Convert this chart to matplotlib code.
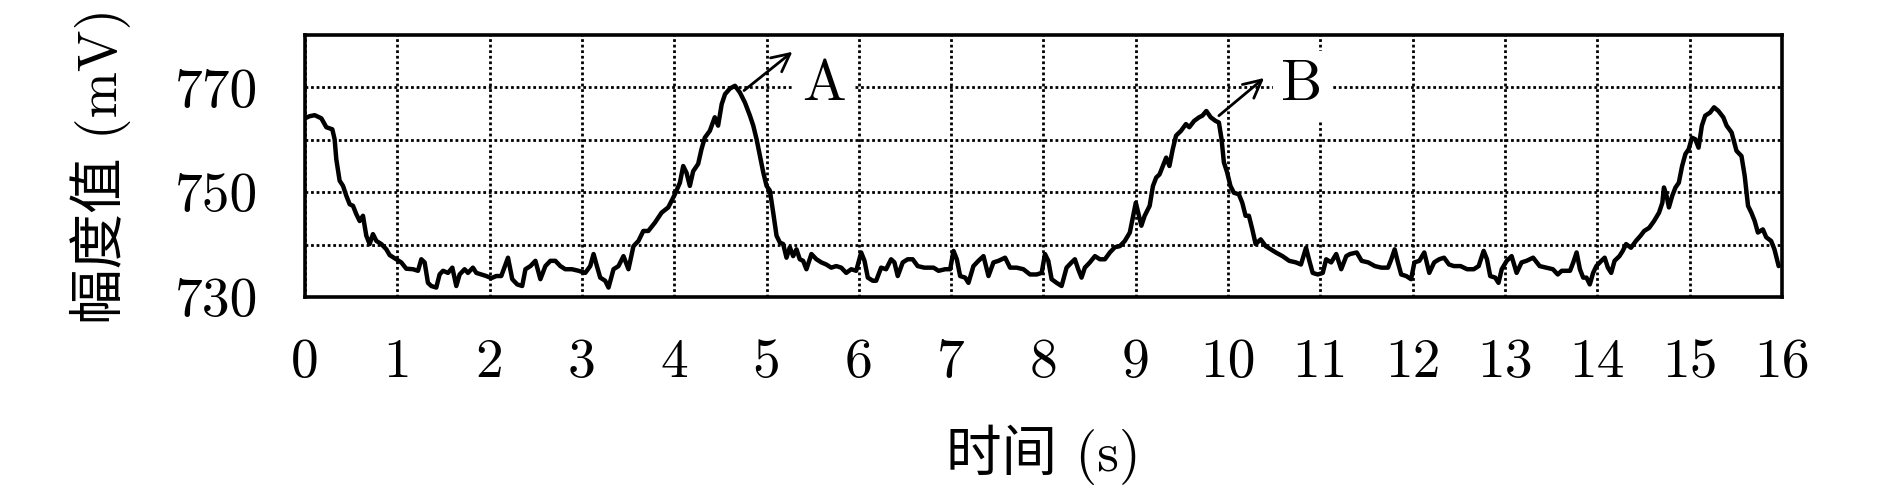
import matplotlib
matplotlib.use("Agg")
import matplotlib.pyplot as plt

# ---- data ----
time_s = [
    0.00, 0.05, 0.105, 0.177, 0.231, 0.296, 0.321, 0.339, 0.375, 0.412, 0.448, 0.484, 0.52, 0.556, 0.592,
    0.628, 0.664, 0.70, 0.736, 0.773, 0.827, 0.881, 0.917, 0.989, 1.043, 1.097, 1.17, 1.224, 1.26, 1.296,
    1.332, 1.368, 1.422, 1.458, 1.495, 1.549, 1.596, 1.639, 1.675, 1.729, 1.765, 1.819, 1.856, 1.91, 1.964,
    2.018, 2.072, 2.126, 2.199,
    2.245, 2.299, 2.353, 2.388, 2.442, 2.496, 2.55, 2.604, 2.658, 2.712, 2.766, 2.82, 2.892, 2.964, 3.036,
    3.09, 3.126, 3.162, 3.198, 3.252, 3.288, 3.342, 3.396, 3.45, 3.504, 3.558, 3.612, 3.665, 3.719, 3.791,
    3.863, 3.935, 4.007, 4.061, 4.097, 4.133, 4.169, 4.205, 4.259, 4.295, 4.331, 4.385, 4.439, 4.475,
    4.514, 4.55, 4.604, 4.658, 4.712, 4.766, 4.82, 4.856, 4.892, 4.928, 4.964, 5.0, 5.036, 5.072, 5.108,
    5.144, 5.18, 5.216, 5.252, 5.288, 5.324, 5.36, 5.396, 5.432, 5.486, 5.54, 5.594, 5.647, 5.701, 5.755,
    5.809, 5.863, 5.917, 5.971, 6.025, 6.061, 6.097, 6.151, 6.187, 6.241, 6.295, 6.349, 6.385, 6.421, 6.475,
    6.529, 6.583, 6.637, 6.709,
    6.809, 6.863, 6.935, 6.989, 7.025, 7.061, 7.097, 7.151, 7.187, 7.241, 7.295, 7.35, 7.404, 7.458, 7.512,
    7.584, 7.638, 7.71, 7.782, 7.854, 7.926, 7.98, 8.016, 8.052, 8.088, 8.142, 8.196, 8.25, 8.304, 8.34,
    8.376, 8.412, 8.448, 8.502, 8.557, 8.611, 8.665, 8.719, 8.773, 8.827, 8.881, 8.935, 8.971, 9.0,
    9.06, 9.096, 9.15, 9.186, 9.221, 9.257, 9.293, 9.329, 9.364, 9.4, 9.436, 9.489, 9.543, 9.579, 9.632,
    9.686, 9.721, 9.764, 9.811, 9.864, 9.9, 9.929, 9.954, 9.989, 10.025, 10.062, 10.116, 10.153, 10.189,
    10.225, 10.262, 10.298, 10.353, 10.407, 10.462, 10.516, 10.589, 10.662, 10.735, 10.789, 10.844, 10.88,
    10.916, 10.971, 11.025, 11.062, 11.116, 11.171, 11.225, 11.28,
    11.32, 11.393, 11.446, 11.518, 11.589, 11.661, 11.732, 11.768, 11.804, 11.839, 11.875, 11.929, 11.982,
    12.018, 12.071, 12.125, 12.179, 12.232, 12.286, 12.339, 12.393, 12.446, 12.518, 12.589, 12.661, 12.714,
    12.768, 12.804, 12.839, 12.893, 12.929, 12.964, 13.018, 13.071, 13.125, 13.179, 13.232, 13.304, 13.375,
    13.446, 13.518, 13.571,
    13.614, 13.704, 13.739, 13.775, 13.811, 13.846, 13.882, 13.918, 13.954, 13.989, 14.043, 14.079, 14.114,
    14.15, 14.186, 14.239, 14.275, 14.311, 14.364, 14.418, 14.468, 14.507, 14.561, 14.614, 14.668, 14.704,
    14.721, 14.75, 14.775, 14.811, 14.846, 14.882, 14.918, 14.954, 14.989, 15.025, 15.061, 15.096, 15.132,
    15.168, 15.221, 15.264, 15.311, 15.364, 15.4, 15.454, 15.507, 15.561, 15.596, 15.632, 15.668, 15.704,
    15.739, 15.793, 15.829, 15.882, 15.918, 15.964,
]

amplitude_mv = [
    764.1, 764.5, 764.7, 764.1, 762.4, 762.0, 760.1, 756.3, 752.2, 751.2, 749.3, 747.7, 747.4, 745.8, 744.5,
    745.5, 741.7, 740.1, 742.0, 740.7, 740.1, 739.1, 738.0, 737.2, 736.6, 735.4, 735.3, 735.0, 737.2, 736.6,
    732.7, 732.1, 731.8, 734.3, 735.0, 734.6, 735.6, 732.1, 734.3, 735.3, 734.6, 735.6, 734.6, 734.3, 734.0,
    733.6, 734.0, 734.0, 737.5,
    733.4, 732.4, 732.1, 735.3, 735.9, 736.9, 733.4, 735.9, 736.9, 736.9, 735.9, 735.3, 735.3, 735.0, 734.6,
    735.9, 738.2, 735.9, 733.7, 733.1, 731.8, 735.3, 735.9, 737.8, 735.3, 739.7, 740.7, 742.6, 742.6, 744.2,
    746.1, 747.1, 749.6, 751.8, 755.0, 753.7, 751.2, 754.0, 755.4, 758.2, 760.4, 761.7, 764.3, 762.7,
    766.8, 768.7, 769.8, 770.3, 769.0, 767.1, 764.6, 762.7, 760.1, 756.9, 753.8, 751.2, 750.3, 746.1, 741.7,
    740.4, 740.1, 737.5, 739.5, 737.8, 739.1, 737.2, 736.9, 735.3, 738.2, 737.2, 736.6, 736.2, 735.6, 735.9,
    735.6, 734.6, 735.3, 735.0, 738.5, 736.9, 733.7, 733.1, 733.1, 735.6, 735.3, 737.2, 736.6, 734.0, 736.6,
    737.2, 737.2, 735.9, 735.6,
    735.6, 735.0, 735.3, 735.3, 738.8, 737.2, 734.0, 733.7, 732.7, 735.9, 736.9, 737.8, 734.0, 736.6, 736.9,
    737.5, 735.6, 735.6, 735.3, 734.3, 734.3, 734.6, 738.2, 736.9, 733.4, 732.7, 732.1, 735.6, 736.6, 737.2,
    735.3, 733.7, 735.6, 736.6, 737.8, 737.2, 737.2, 738.5, 739.5, 739.7, 740.7, 742.3, 745.5, 748.0,
    743.6, 745.5, 747.4, 751.2, 752.8, 753.4, 755.0, 756.6, 755.0, 758.2, 760.8, 761.7, 763.0, 762.4, 763.6,
    764.3, 764.6, 765.5, 764.3, 763.6, 763.3, 760.1, 755.7, 753.8, 751.2, 749.9, 749.6, 748.0, 745.5,
    745.5, 742.9, 740.1, 741.0, 739.7, 739.1, 738.5, 737.8, 736.9, 736.6, 736.2, 739.4, 736.9,
    734.6, 734.3, 734.6, 737.2, 736.6, 738.2, 735.3, 737.8,
    738.2, 738.5, 736.9, 736.6, 735.9, 735.6, 735.6, 737.2, 739.1, 736.6, 734.3, 734.0, 733.4,
    736.6, 736.9, 738.5, 734.6, 736.6, 737.2, 737.5, 736.2, 735.9, 735.9, 735.3, 735.3, 735.9,
    738.8, 737.2, 734.0, 733.7, 732.7, 735.3, 736.9, 737.8, 734.6, 736.6, 736.9, 737.5, 735.9,
    735.6, 735.3, 734.3,
    735.0, 735.0, 736.6, 738.5, 735.3, 733.7, 733.7, 732.4, 734.6, 735.9, 736.9, 737.5, 735.6,
    734.6, 736.9, 737.8, 738.8, 740.1, 739.4, 740.7, 741.7, 742.6, 743.2, 744.5, 746.1, 748.0,
    750.9, 749.3, 747.1, 749.3, 750.9, 751.8, 755.0, 757.3, 758.2, 760.4, 760.1, 758.5, 762.7,
    764.6, 765.2, 766.2, 765.5, 764.3, 762.7, 761.4, 757.9, 756.9, 753.1, 747.4, 746.1, 744.5,
    742.3, 742.9, 741.4, 740.7, 739.1, 735.9,
]

x_ticks = list(range(0, 17))
x_tick_labels = [str(v) for v in x_ticks]
y_ticks = [730, 740, 750, 760, 770]
y_tick_labels = ["730", "", "750", "", "770"]

peak_labels = ["A", "B"]
arrow_tails = [(4.756, 769.4), (9.90, 764.6)]
arrow_heads = [(5.28, 776.8), (10.39, 771.8)]
label_pos = [(5.62, 770.4), (10.80, 770.4)]

xlabel = "时间 (s)"
ylabel = "幅度值 (mV)"

# ---- drawing ----
num_font = "cmr10"
fam = [num_font, "Noto Sans CJK SC", "DejaVu Sans"]
plt.rcParams["axes.formatter.use_mathtext"] = True

fig = plt.figure(figsize=(18.9, 4.96), dpi=100)
ax = fig.add_axes([305 / 1890, 1 - 297 / 496, (1782 - 305) / 1890, (297 - 35) / 496])

ax.plot(time_s, amplitude_mv, color="black", lw=3.2, zorder=3,
        solid_joinstyle="round", solid_capstyle="round")

ax.set_xlim(0, 16)
ax.set_ylim(730, 780)
ax.set_xticks(x_ticks)
ax.set_xticklabels(x_tick_labels, fontfamily=fam, fontsize=40)
ax.set_yticks(y_ticks)
ax.set_yticklabels(y_tick_labels, fontfamily=fam, fontsize=40)
ax.tick_params(axis="both", length=0)
ax.tick_params(axis="x", pad=30)
ax.tick_params(axis="y", pad=34)

ax.grid(True, color="black", lw=2.0, linestyle=(0, (1, 1.0)), zorder=1)
for s in ax.spines.values():
    s.set_linewidth(2.6)
    s.set_zorder(4)

for lab, tail, head, pos in zip(peak_labels, arrow_tails, arrow_heads, label_pos):
    ax.annotate("", xy=head, xytext=tail,
                arrowprops=dict(arrowstyle="->", lw=2.0, color="black",
                                mutation_scale=32, shrinkA=0, shrinkB=0), zorder=5)
    ax.text(pos[0], pos[1], lab, fontfamily=fam, fontsize=42, ha="center", va="center",
            bbox=dict(boxstyle="square,pad=0.15", fc="white", ec="none"), zorder=2)

ax.set_xlabel(xlabel, fontfamily=fam, fontsize=40, fontweight="light", va="center")
ax.xaxis.set_label_coords(0.5, (297 - 455) / 262)
ax.set_ylabel(ylabel, fontfamily=fam, fontsize=40, fontweight="light", va="center")
ax.yaxis.set_label_coords((100 - 305) / 1477, 0.5)

fig.savefig("out.png", dpi=100)
